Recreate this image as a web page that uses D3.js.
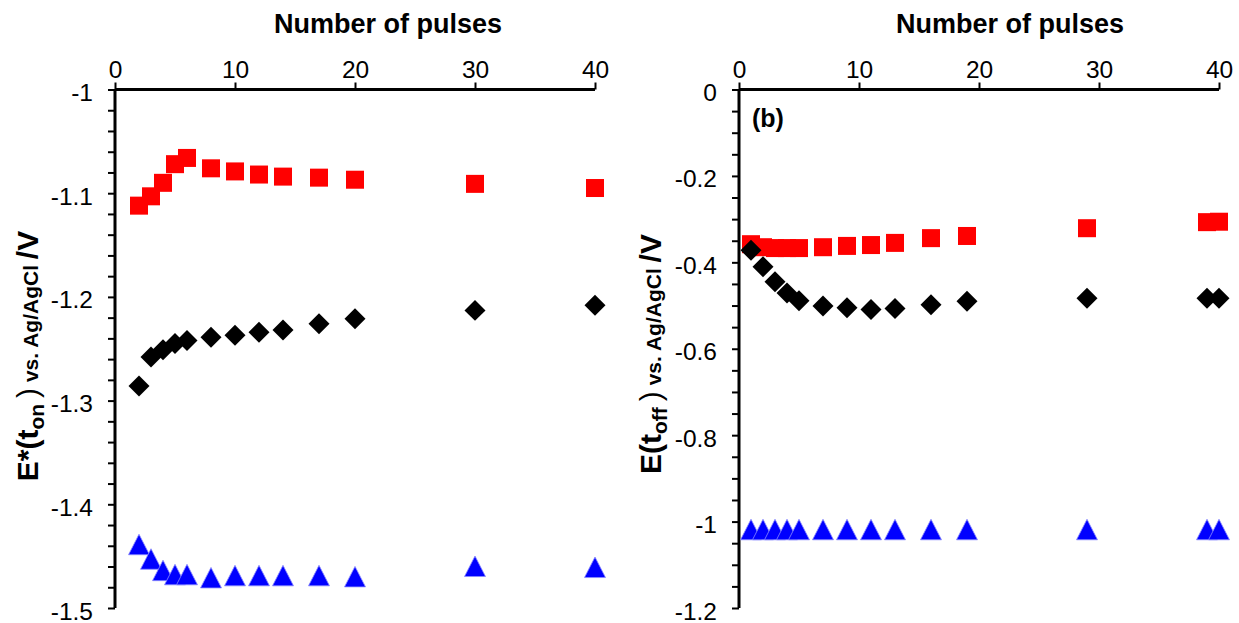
<!DOCTYPE html>
<html>
<head>
<meta charset="utf-8">
<script src="https://cdn.jsdelivr.net/npm/d3@7"></script>
<style>
  html, body { margin: 0; padding: 0; background: #fff; }
  svg { display: block; font-family: "Liberation Sans", Arial, sans-serif; }
</style>
</head>
<body>
<svg id="chart" width="1239" height="623"></svg>
<script>
// Panel (a): potential at pulse-on time vs. number of pulses
const pulsesA = [2, 3, 4, 5, 6, 8, 10, 12, 14, 17, 20, 30, 40];
const onRed   = [-1.112, -1.103, -1.090, -1.072, -1.066, -1.076, -1.079, -1.082, -1.084, -1.085, -1.087, -1.091, -1.095];
const onBlack = [-1.286, -1.258, -1.251, -1.245, -1.242, -1.239, -1.237, -1.234, -1.232, -1.226, -1.221, -1.213, -1.208];
const onBlue  = [-1.439, -1.453, -1.464, -1.468, -1.468, -1.471, -1.469, -1.469, -1.469, -1.469, -1.470, -1.460, -1.461];

// Panel (b): potential at pulse-off time vs. number of pulses
const pulsesB  = [1, 2, 3, 4, 5, 7, 9, 11, 13, 16, 19, 29, 39, 40];
const offRed   = [-0.358, -0.365, -0.367, -0.367, -0.367, -0.365, -0.362, -0.360, -0.355, -0.344, -0.339, -0.321, -0.307, -0.306];
const offBlack = [-0.372, -0.410, -0.445, -0.471, -0.489, -0.501, -0.505, -0.509, -0.507, -0.498, -0.490, -0.483, -0.483, -0.483];
const offBlue  = [-1.019, -1.019, -1.019, -1.019, -1.019, -1.019, -1.019, -1.019, -1.019, -1.019, -1.019, -1.019, -1.019, -1.019];

const xTicks  = [0, 10, 20, 30, 40];
const yTicksA = [-1, -1.1, -1.2, -1.3, -1.4, -1.5];
const yTicksB = [0, -0.2, -0.4, -0.6, -0.8, -1, -1.2];

const svg = d3.select("#chart");
const TOP = 89.5, BOTTOM = 608;

function fmt(v) { return v === 0 ? "0" : String(v); }

function panel(cfg) {
  const x = d3.scaleLinear().domain([0, 40]).range([cfg.left, cfg.left + 480]);
  const y = d3.scaleLinear().domain(cfg.yDomain).range([BOTTOM, TOP]);
  const g = svg.append("g");

  // top x axis
  const xAxis = d3.axisTop(x).tickValues(xTicks).tickSize(7).tickPadding(8).tickFormat(fmt);
  const gx = g.append("g").attr("transform", `translate(0,${TOP})`).call(xAxis);
  gx.select(".domain").attr("stroke", "#000").attr("stroke-width", 3).attr("d", `M${x(0)},0H${x(40)}`);
  gx.selectAll(".tick line").attr("stroke", "#000").attr("stroke-width", 2);
  gx.selectAll(".tick text").attr("font-size", 24.5).attr("fill", "#000").attr("dy", "0.15em");

  // left y axis with minor ticks
  const minor = d3.range(0, cfg.minorCount + 1).map(i => cfg.yDomain[0] + i * cfg.minorStep);
  const yMinor = d3.axisLeft(y).tickValues(minor).tickSize(7).tickFormat("");
  const gm = g.append("g").attr("transform", `translate(${cfg.left},0)`).call(yMinor);
  gm.select(".domain").attr("stroke", "#000").attr("stroke-width", 3).attr("d", `M0,${TOP}V${BOTTOM}`);
  gm.selectAll(".tick line").attr("stroke", "#000").attr("stroke-width", 2);

  const yAxis = d3.axisLeft(y).tickValues(cfg.yTicks).tickSize(0).tickPadding(cfg.labelPad).tickFormat(fmt);
  const gy = g.append("g").attr("transform", `translate(${cfg.left},0)`).call(yAxis);
  gy.select(".domain").remove();
  gy.selectAll(".tick text").attr("font-size", 24.5).attr("fill", "#000").attr("dy", "0.45em");

  // axis title
  g.append("text")
    .attr("x", cfg.titleX).attr("y", 33)
    .attr("text-anchor", "middle")
    .attr("font-size", 27).attr("font-weight", "bold")
    .text("Number of pulses");

  // y axis title (rotated, mixed sizes)
  const yt = g.append("text")
    .attr("transform", `translate(${cfg.yTitleX},${cfg.yTitleY}) rotate(-90)`)
    .attr("text-anchor", "middle")
    .attr("font-weight", "bold");
  yt.append("tspan").attr("font-size", 30).text(cfg.yTitleHead);
  yt.append("tspan").attr("font-size", 21).attr("dy", 6).text(cfg.yTitleSub);
  yt.append("tspan").attr("font-size", 30).attr("dy", -6).attr("font-weight", "normal").text("\u2009)");
  yt.append("tspan").attr("font-size", 21).text(" vs. Ag/AgCl ");
  yt.append("tspan").attr("font-size", 30).text("/V");

  const pts = (xs, ys) => xs.map((d, i) => [x(d), y(ys[i])]);

  // red squares
  g.append("g").selectAll("rect").data(pts(cfg.xs, cfg.red)).join("rect")
    .attr("x", d => d[0] - 9).attr("y", d => d[1] - 9)
    .attr("width", 18).attr("height", 18)
    .attr("fill", "#ff0000");

  // black diamonds
  const diamond = d3.symbol().type(d3.symbolSquare).size(220);
  g.append("g").selectAll("path").data(pts(cfg.xs, cfg.black)).join("path")
    .attr("d", diamond)
    .attr("transform", d => `translate(${d[0]},${d[1]}) rotate(45)`)
    .attr("fill", "#000");

  // blue triangles
  g.append("g").selectAll("path").data(pts(cfg.xs, cfg.blue)).join("path")
    .attr("d", d => `M${d[0]},${d[1] - 10.5}L${d[0] + 10.5},${d[1] + 10}L${d[0] - 10.5},${d[1] + 10}Z`)
    .attr("fill", "#0000ff")
    .attr("stroke", "#8c8cff").attr("stroke-width", 0.8);

  return g;
}

panel({
  left: 115, yDomain: [-1.5, -1], yTicks: yTicksA, minorStep: 0.02, minorCount: 25,
  labelPad: 22, titleX: 388, yTitleX: 38, yTitleY: 356,
  yTitleHead: "E*(t", yTitleSub: "on",
  xs: pulsesA, red: onRed, black: onBlack, blue: onBlue
});

const gb = panel({
  left: 739, yDomain: [-1.2, 0], yTicks: yTicksB, minorStep: 0.05, minorCount: 24,
  labelPad: 22, titleX: 1010, yTitleX: 661, yTitleY: 354,
  yTitleHead: "E(t", yTitleSub: "off",
  xs: pulsesB, red: offRed, black: offBlack, blue: offBlue
});

gb.append("text")
  .attr("x", 752).attr("y", 127)
  .attr("font-size", 25).attr("font-weight", "bold")
  .text("(b)");
</script>
</body>
</html>
